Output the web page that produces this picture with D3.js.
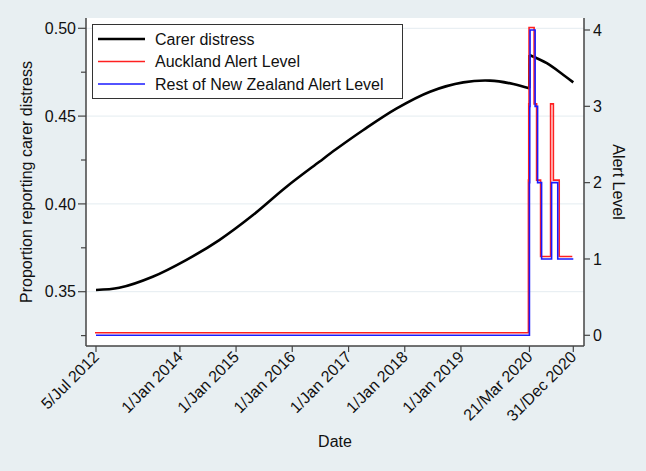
<!DOCTYPE html>
<html><head><meta charset="utf-8">
<script src="https://cdn.jsdelivr.net/npm/d3@7"></script>
<style>
html,body{margin:0;padding:0;background:#e8eff2;}
svg{display:block;font-family:"Liberation Sans",Arial,Helvetica,sans-serif;}
</style></head><body>
<svg id="chart" width="646" height="471"></svg>
<script>
// ---------------- DATA ----------------
const carerDates = ["2012-07-05","2012-12-03","2013-07-08","2014-02-10","2014-09-14","2015-04-19",
  "2015-11-21","2016-06-25","2016-10-11","2017-04-07","2017-11-10","2018-06-14","2019-01-16",
  "2019-07-09","2019-12-07","2020-03-20","2020-03-21","2020-07-12","2020-10-28","2020-12-31"];
const carerValues = [0.351,0.3522,0.3585,0.368,0.3794,0.3935,
  0.4095,0.424,0.4311,0.4421,0.4544,0.4639,0.4692,
  0.4702,0.4683,0.4658,0.4848,0.4801,0.4734,0.4692];
const carerBreakDate = "2020-03-21";

const aucklandDates  = ["2012-07-05","2020-03-21","2020-03-23","2020-03-25","2020-04-27","2020-05-13",
  "2020-06-08","2020-08-12","2020-08-30","2020-10-07","2020-12-31"];
const aucklandLevels = [0,2,3,4,3,2,1,3,2,1,1];

const restNZDates  = ["2012-07-05","2020-03-21","2020-03-23","2020-03-25","2020-04-27","2020-05-13",
  "2020-06-08","2020-08-12","2020-09-21","2020-12-31"];
const restNZLevels = [0,2,3,4,3,2,1,2,1,1];

const xTickDates  = ["2012-07-05","2014-01-01","2015-01-01","2016-01-01","2017-01-01",
  "2018-01-01","2019-01-01","2020-03-21","2020-12-31"];
const xTickLabels = ["5/Jul 2012","1/Jan 2014","1/Jan 2015","1/Jan 2016","1/Jan 2017",
  "1/Jan 2018","1/Jan 2019","21/Mar 2020","31/Dec 2020"];

const leftTicks = [0.35,0.40,0.45,0.50];
const leftTickLabels = ["0.35","0.40","0.45","0.50"];
const leftMinorTicks = [0.325,0.375,0.425,0.475];
const rightTicks = [0,1,2,3,4];

const seriesNames = ["Carer distress","Auckland Alert Level","Rest of New Zealand Alert Level"];
const seriesColors = ["#000000","#ff2020","#1a1aff"];

// ---------------- LAYOUT ----------------
const parse = d3.timeParse("%Y-%m-%d");
const plot = {left:86, right:584, top:18, bottom:346};
const aucklandOffset = {dx:-1, dy:-2.5};

const svg = d3.select("#chart");
svg.append("rect").attr("width",646).attr("height",471).attr("fill","#e8eff2");
svg.append("rect").attr("x",plot.left).attr("y",plot.top)
  .attr("width",plot.right-plot.left).attr("height",plot.bottom-plot.top).attr("fill","#ffffff");

const x = d3.scaleTime().domain([parse("2012-07-05"), parse("2020-12-31")]).range([96, 573.3]);
const yL = d3.scaleLinear().domain([0.35, 0.50]).range([291.7, 28.3]);
const yR = d3.scaleLinear().domain([0, 4]).range([335.3, 30]);

// gridlines
svg.append("g").selectAll("line").data(leftTicks).join("line")
  .attr("x1",plot.left).attr("x2",plot.right)
  .attr("y1",d=>yL(d)).attr("y2",d=>yL(d))
  .attr("stroke","#e4ecf0").attr("stroke-width",1);

// ---------------- SERIES ----------------
const carer = carerDates.map((d,i)=>({date:parse(d), v:carerValues[i]}));
const brk = parse(carerBreakDate);
const pre = carer.filter(d=>d.date < brk);
const post = carer.filter(d=>d.date >= brk);
const lineL = d3.line().x(d=>x(d.date)).y(d=>yL(d.v)).curve(d3.curveCatmullRom.alpha(0.5));
const g = svg.append("g");
[pre, post].forEach(seg=>{
  g.append("path").attr("d", lineL(seg)).attr("fill","none")
    .attr("stroke",seriesColors[0]).attr("stroke-width",2.6).attr("stroke-linejoin","round");
});
g.append("path").attr("d", d3.line().x(d=>x(d.date)).y(d=>yL(d.v))([pre[pre.length-1], post[0]]))
  .attr("fill","none").attr("stroke",seriesColors[0]).attr("stroke-width",2.6);

const lineR = d3.line().x(d=>x(d.date)).y(d=>yR(d.v)).curve(d3.curveStepAfter);
const akl = aucklandDates.map((d,i)=>({date:parse(d), v:aucklandLevels[i]}));
const nz = restNZDates.map((d,i)=>({date:parse(d), v:restNZLevels[i]}));
g.append("path").attr("d", lineR(akl)).attr("fill","none")
  .attr("stroke",seriesColors[1]).attr("stroke-width",1.6)
  .attr("transform",`translate(${aucklandOffset.dx},${aucklandOffset.dy})`);
g.append("path").attr("d", lineR(nz)).attr("fill","none")
  .attr("stroke",seriesColors[2]).attr("stroke-width",1.6);

// ---------------- AXES ----------------
const axisColor = "#444";
const fs = 16;
// left axis
svg.append("line").attr("x1",plot.left).attr("x2",plot.left).attr("y1",plot.top).attr("y2",plot.bottom)
  .attr("stroke",axisColor).attr("stroke-width",1.5);
const lt = svg.append("g");
lt.selectAll("line.maj").data(leftTicks).join("line")
  .attr("x1",plot.left-8).attr("x2",plot.left).attr("y1",d=>yL(d)).attr("y2",d=>yL(d))
  .attr("stroke",axisColor).attr("stroke-width",1.2);
lt.selectAll("line.min").data(leftMinorTicks).join("line")
  .attr("x1",plot.left-5).attr("x2",plot.left).attr("y1",d=>yL(d)).attr("y2",d=>yL(d))
  .attr("stroke",axisColor).attr("stroke-width",1.2);
lt.selectAll("text").data(leftTicks).join("text")
  .attr("x",plot.left-10).attr("y",d=>yL(d)).attr("dy","0.36em")
  .attr("text-anchor","end").attr("font-size",fs).attr("fill","#111")
  .text((d,i)=>leftTickLabels[i]);

// right axis
svg.append("line").attr("x1",plot.right).attr("x2",plot.right).attr("y1",plot.top).attr("y2",plot.bottom)
  .attr("stroke",axisColor).attr("stroke-width",1.5);
const rt = svg.append("g");
rt.selectAll("line").data(rightTicks).join("line")
  .attr("x1",plot.right).attr("x2",plot.right+6).attr("y1",d=>yR(d)).attr("y2",d=>yR(d))
  .attr("stroke",axisColor).attr("stroke-width",1.2);
rt.selectAll("text").data(rightTicks).join("text")
  .attr("x",plot.right+9).attr("y",d=>yR(d)).attr("dy","0.36em")
  .attr("text-anchor","start").attr("font-size",fs).attr("fill","#111")
  .text(d=>d);

// bottom axis
svg.append("line").attr("x1",plot.left).attr("x2",plot.right).attr("y1",plot.bottom).attr("y2",plot.bottom)
  .attr("stroke",axisColor).attr("stroke-width",1.5);
const bt = svg.append("g");
const xt = xTickDates.map((d,i)=>({date:parse(d), label:xTickLabels[i]}));
bt.selectAll("line").data(xt).join("line")
  .attr("x1",d=>x(d.date)).attr("x2",d=>x(d.date)).attr("y1",plot.bottom).attr("y2",plot.bottom+6)
  .attr("stroke",axisColor).attr("stroke-width",1.2);
bt.selectAll("text").data(xt).join("text")
  .attr("transform",d=>`translate(${x(d.date)+4},${plot.bottom+12}) rotate(-45)`)
  .attr("text-anchor","end").attr("font-size",fs).attr("fill","#111")
  .text(d=>d.label);

// titles
svg.append("text").attr("transform",`translate(32,${(plot.top+plot.bottom)/2}) rotate(-90)`)
  .attr("text-anchor","middle").attr("font-size",fs).attr("fill","#111")
  .text("Proportion reporting carer distress");
svg.append("text").attr("transform",`translate(613,${(plot.top+plot.bottom)/2}) rotate(90)`)
  .attr("text-anchor","middle").attr("font-size",fs).attr("fill","#111")
  .text("Alert Level");
svg.append("text").attr("x",(plot.left+plot.right)/2).attr("y",447)
  .attr("text-anchor","middle").attr("font-size",fs).attr("fill","#111")
  .text("Date");

// ---------------- LEGEND ----------------
const lg = svg.append("g");
lg.append("rect").attr("x",92.5).attr("y",24.5).attr("width",310).attr("height",74)
  .attr("fill","#ffffff").attr("stroke","#333").attr("stroke-width",1);
const rowY = [39, 61.5, 84];
const widths = [2.6,1.6,1.6];
seriesNames.forEach((n,i)=>{
  lg.append("line").attr("x1",98).attr("x2",145).attr("y1",rowY[i]).attr("y2",rowY[i])
    .attr("stroke",seriesColors[i]).attr("stroke-width",widths[i]);
  lg.append("text").attr("x",155).attr("y",rowY[i]).attr("dy","0.36em")
    .attr("font-size",fs).attr("fill","#111").text(n);
});
</script>
</body></html>
